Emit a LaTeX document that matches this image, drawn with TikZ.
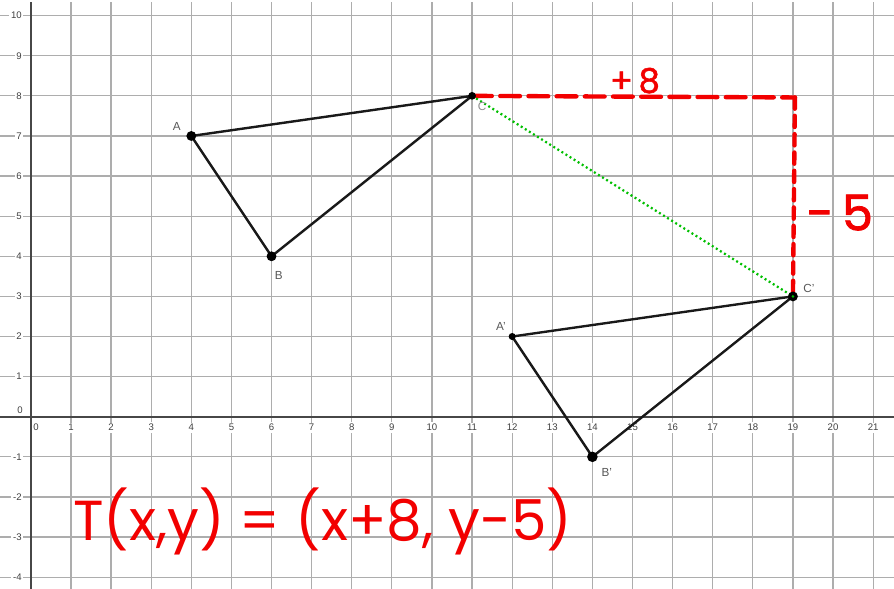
\documentclass[tikz,border=0pt]{standalone}
\usepackage{fontspec}
\setmainfont{Liberation Sans}
\newfontfamily\hand{Poppins}
\newfontfamily\handb[FakeBold=1.6]{Poppins}
\begin{document}
\begin{tikzpicture}[x=1cm,y=1cm,
  gridl/.style={draw=black!32, line width=0.9pt},
  axisl/.style={draw=black!72, line width=1.3pt},
  tick/.style={font=\fontsize{6.8}{7}\selectfont, text=black!75, fill=white, inner sep=1.2pt},
  ptlabel/.style={font=\fontsize{8.3}{9}\selectfont, text=black!65},
  tri/.style={draw=black!90, line width=1.7pt, line join=round},
  dot/.style={circle, fill=black, inner sep=0pt, minimum size=#1},
  redhand/.style={draw=red!95!black, line width=3.1pt, line cap=round},
  redtext/.style={text=red!95!black},
  greendot/.style={draw=green!75!black, line width=1.6pt, dash pattern=on 1.4pt off 2pt}
]
\useasboundingbox (-0.77,-4.29) rectangle (21.52,10.39);
\fill[white] (-0.77,-4.29) rectangle (21.52,10.39);
% grid
\foreach \x in {1,...,21} \draw[gridl] (\x,-4.29) -- (\x,10.33);
\foreach \y in {-4,...,10} \draw[gridl] (-0.77,\y) -- (21.52,\y);
\draw[axisl] (0,-4.29) -- (0,10.33);
\draw[axisl] (-0.77,0) -- (21.52,0);
% axis labels
\foreach \x in {1,...,21} \node[tick] (xl\x) at (\x,-0.27) {\x};
\node[tick] (xl0) at (0.13,-0.27) {0};
\foreach \y in {-4,...,-1,1,2,...,10} \node[tick, anchor=east] (yl\y) at (-0.18,\y) {\y};
\node[tick] (yl0) at (-0.27,0.16) {0};
% points
\coordinate (pA) at (4,7);
\coordinate (pB) at (6,4);
\coordinate (pC) at (11,8);
\coordinate (pA2) at (12,2);
\coordinate (pB2) at (14,-1);
\coordinate (pC2) at (19,3);
\coordinate (corner) at (19.05,7.96);
% triangles
\draw[tri] (pA) -- (pB) -- (pC) -- cycle;
\draw[tri] (pA2) -- (pB2) -- (pC2) -- cycle;
% red translation path
\draw[redhand, dash pattern=on 14pt off 6pt] (pC) -- (corner);
\draw[redhand, dash pattern=on 8pt off 5pt] (corner) -- (pC2);
% green dotted
\draw[greendot] (pC) -- (pC2);
% dots
\node[dot=7pt] (A) at (pA) {};
\node[dot=7pt] (B) at (pB) {};
\node[dot=5.5pt] (C) at (pC) {};
\node[dot=5pt] (A2) at (pA2) {};
\node[dot=7.5pt] (B2) at (pB2) {};
\node[dot=7pt] (C2) at (pC2) {};
\node[circle, fill=green!75!black, inner sep=0pt, minimum size=2pt] (C2in) at (pC2) {};
% point labels
\node[ptlabel] (lA) at (3.64,7.23) {A};
\node[ptlabel] (lB) at (6.18,3.52) {B};
\node[ptlabel, text=black!45] (lC) at (11.25,7.73) {C};
\node[ptlabel] (lA2) at (11.72,2.25) {A'};
\node[ptlabel] (lB2) at (14.36,-1.38) {B'};
\node[ptlabel] (lC2) at (19.4,3.2) {C'};
% handwritten annotations
\node[redtext, font=\handb\fontsize{24}{28}\selectfont] (p8) at (15.06,8.38) {+\,8};
\node[redtext, font=\handb\fontsize{35}{40}\selectfont] (m5) at (20.17,5.09) {-\,5};
\node[redtext, font=\hand\fontsize{40}{46}\selectfont] (T) at (7.28,-2.6) {T(x,y) = (x+8, y-5)};
\end{tikzpicture}
\end{document}
